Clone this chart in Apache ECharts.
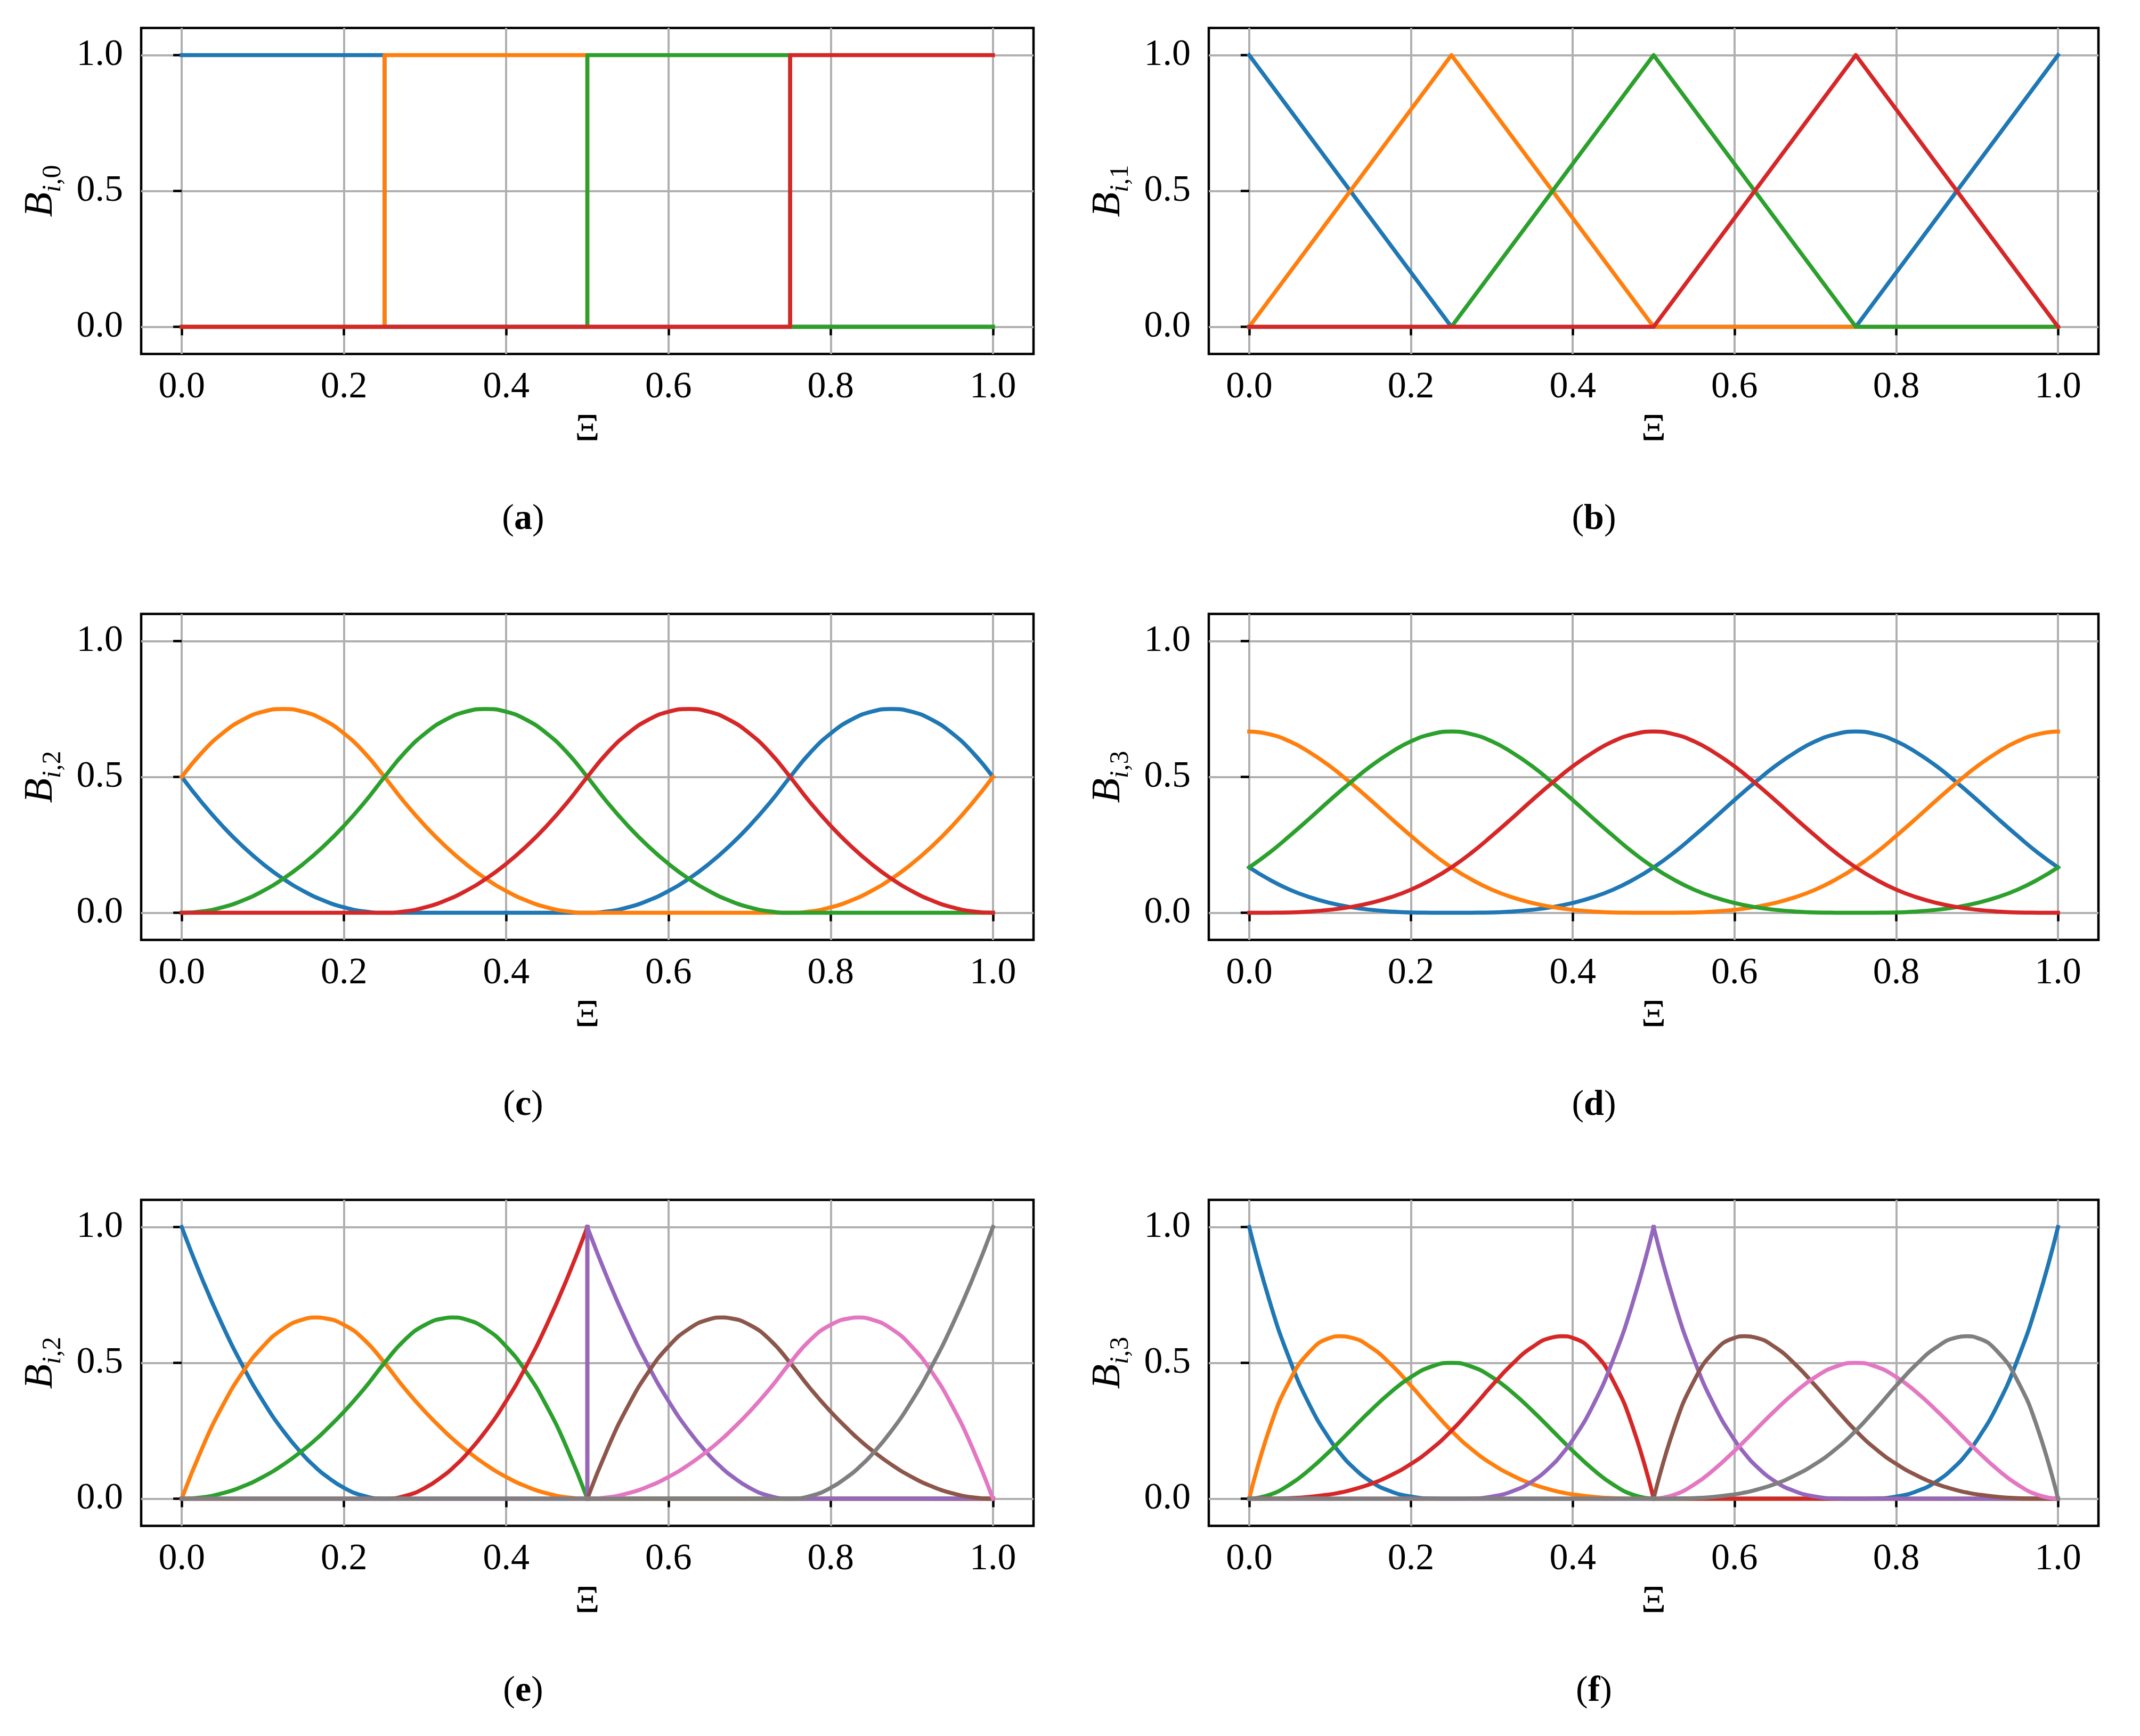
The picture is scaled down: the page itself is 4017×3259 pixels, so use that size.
<!DOCTYPE html>
<html><head><meta charset="utf-8">
<script src="https://cdn.jsdelivr.net/npm/echarts@6/dist/echarts.min.js"></script>
<style>html,body{margin:0;padding:0;background:#fff}#main{width:4017px;height:3259px}</style>
</head><body><div id="main"></div>
<script>
// ---------- tick labels ----------
const xTickValues = [0, 0.2, 0.4, 0.6, 0.8, 1.0];
const yTickValues = [0, 0.5, 1.0];
const captions = ['a', 'b', 'c', 'd', 'e', 'f'];
const yLabelDegree = ['0', '1', '2', '3', '2', '3'];

// ---------- x samples ----------
const xsStep = [0, 0.25, 0.25, 0.5, 0.5, 0.75, 0.75, 1];
const xsLin = [0, 0.25, 0.5, 0.75, 1];
const xsGrid = [0, 0.025, 0.05, 0.075, 0.1, 0.125, 0.15, 0.175, 0.2, 0.225, 0.25, 0.275, 0.3, 0.325, 0.35, 0.375, 0.4, 0.425, 0.45, 0.475, 0.5,
  0.525, 0.55, 0.575, 0.6, 0.625, 0.65, 0.675, 0.7, 0.725, 0.75, 0.775, 0.8, 0.825, 0.85, 0.875, 0.9, 0.925, 0.95, 0.975, 1];
// (e): left half ends at 0.5, right half starts again at 0.5 (jump)
const xsE = [0, 0.025, 0.05, 0.075, 0.1, 0.125, 0.15, 0.1667, 0.175, 0.2, 0.225, 0.25, 0.275, 0.3, 0.325, 0.3333, 0.35, 0.375, 0.4, 0.425, 0.45, 0.475, 0.5,
  0.5, 0.525, 0.55, 0.575, 0.6, 0.625, 0.65, 0.6667, 0.675, 0.7, 0.725, 0.75, 0.775, 0.8, 0.825, 0.8333, 0.85, 0.875, 0.9, 0.925, 0.95, 0.975, 1];
// (f): 0.5 shared by both halves
const xsF = [0, 0.025, 0.05, 0.075, 0.1, 0.1133, 0.125, 0.15, 0.175, 0.2, 0.225, 0.25, 0.275, 0.3, 0.325, 0.35, 0.375, 0.3867, 0.4, 0.425, 0.45, 0.475, 0.5,
  0.525, 0.55, 0.575, 0.6, 0.6133, 0.625, 0.65, 0.675, 0.7, 0.725, 0.75, 0.775, 0.8, 0.825, 0.85, 0.875, 0.8867, 0.9, 0.925, 0.95, 0.975, 1];

// ---------- (a) B_{i,0} ----------
const a_blue   = [1, 1, 0, 0, 0, 0, 0, 0];
const a_orange = [0, 0, 1, 1, 0, 0, 0, 0];
const a_green  = [0, 0, 0, 0, 1, 1, 0, 0];
const a_red    = [0, 0, 0, 0, 0, 0, 1, 1];

// ---------- (b) B_{i,1} ----------
const b_blue   = [1, 0, 0, 0, 1];
const b_orange = [0, 1, 0, 0, 0];
const b_green  = [0, 0, 1, 0, 0];
const b_red    = [0, 0, 0, 1, 0];

// ---------- (c) B_{i,2} periodic ----------
const c_blue = [0.5,0.405,0.32,0.245,0.18,0.125,0.08,0.045,0.02,0.005,0,
  0,0,0,0,0,0,0,0,0,0,
  0.005,0.02,0.045,0.08,0.125,0.18,0.245,0.32,0.405,0.5,
  0.59,0.66,0.71,0.74,0.75,0.74,0.71,0.66,0.59,0.5];
const c_orange = [0.5,0.59,0.66,0.71,0.74,0.75,0.74,0.71,0.66,0.59,0.5,
  0.405,0.32,0.245,0.18,0.125,0.08,0.045,0.02,0.005,0,
  0,0,0,0,0,0,0,0,0,0,
  0.005,0.02,0.045,0.08,0.125,0.18,0.245,0.32,0.405,0.5];
const c_green = [0,0.005,0.02,0.045,0.08,0.125,0.18,0.245,0.32,0.405,0.5,
  0.59,0.66,0.71,0.74,0.75,0.74,0.71,0.66,0.59,0.5,
  0.405,0.32,0.245,0.18,0.125,0.08,0.045,0.02,0.005,0,
  0,0,0,0,0,0,0,0,0,0];
const c_red = [0,0,0,0,0,0,0,0,0,0,0,
  0.005,0.02,0.045,0.08,0.125,0.18,0.245,0.32,0.405,0.5,
  0.59,0.66,0.71,0.74,0.75,0.74,0.71,0.66,0.59,0.5,
  0.405,0.32,0.245,0.18,0.125,0.08,0.045,0.02,0.005,0];

// ---------- (d) B_{i,3} periodic ----------
const d_blue = [0.167,0.122,0.085,0.057,0.036,0.021,0.011,0.0045,0.001,0.0002,0,
  0.0002,0.001,0.0045,0.011,0.021,0.036,0.057,0.085,0.122,0.167,
  0.221,0.283,0.348,0.415,0.479,0.539,0.59,0.631,0.657,0.667,
  0.657,0.631,0.59,0.539,0.479,0.415,0.348,0.283,0.221,0.167];
const d_orange = [0.667,0.657,0.631,0.59,0.539,0.479,0.415,0.348,0.283,0.221,0.167,
  0.122,0.085,0.057,0.036,0.021,0.011,0.0045,0.001,0.0002,0,
  0.0002,0.001,0.0045,0.011,0.021,0.036,0.057,0.085,0.122,0.167,
  0.221,0.283,0.348,0.415,0.479,0.539,0.59,0.631,0.657,0.667];
const d_green = [0.167,0.221,0.283,0.348,0.415,0.479,0.539,0.59,0.631,0.657,0.667,
  0.657,0.631,0.59,0.539,0.479,0.415,0.348,0.283,0.221,0.167,
  0.122,0.085,0.057,0.036,0.021,0.011,0.0045,0.001,0.0002,0,
  0.0002,0.001,0.0045,0.011,0.021,0.036,0.057,0.085,0.122,0.167];
const d_red = [0,0.0002,0.001,0.0045,0.011,0.021,0.036,0.057,0.085,0.122,0.167,
  0.221,0.283,0.348,0.415,0.479,0.539,0.59,0.631,0.657,0.667,
  0.657,0.631,0.59,0.539,0.479,0.415,0.348,0.283,0.221,0.167,
  0.122,0.085,0.057,0.036,0.021,0.011,0.0045,0.001,0.0002,0];

// ---------- (e) B_{i,2}, triple knot at 0.5 (xsE: 23 left + 23 right) ----------
const e_blue = [1,0.81,0.64,0.49,0.36,0.25,0.16,0.111,0.09,0.04,0.01,0, 0,0,0,0,0,0,0,0,0,0,0,
  0,0,0,0,0,0,0,0,0,0, 0,0,0,0,0,0,0,0,0,0, 0,0,0];
const e_orange = [0,0.185,0.34,0.465,0.56,0.625,0.66,0.667,0.665,0.64,0.585,0.5, 0.405,0.32,0.245,0.222,0.18,0.125,0.08,0.045,0.02,0.005,0,
  0,0,0,0,0,0,0,0,0,0, 0,0,0,0,0,0,0,0,0,0, 0,0,0];
const e_green = [0,0.005,0.02,0.045,0.08,0.125,0.18,0.222,0.245,0.32,0.405,0.5, 0.585,0.64,0.665,0.667,0.66,0.625,0.56,0.465,0.34,0.185,0,
  0,0,0,0,0,0,0,0,0,0, 0,0,0,0,0,0,0,0,0,0, 0,0,0];
const e_red = [0,0,0,0,0,0,0,0,0,0,0,0, 0.01,0.04,0.09,0.111,0.16,0.25,0.36,0.49,0.64,0.81,1,
  0,0,0,0,0,0,0,0,0,0, 0,0,0,0,0,0,0,0,0,0, 0,0,0];
const e_purple = [0,0,0,0,0,0,0,0,0,0, 0,0,0,0,0,0,0,0,0,0, 0,0,0,
  1,0.81,0.64,0.49,0.36,0.25,0.16,0.111,0.09,0.04,0.01,0, 0,0,0,0,0,0,0,0,0,0,0];
const e_brown = [0,0,0,0,0,0,0,0,0,0, 0,0,0,0,0,0,0,0,0,0, 0,0,0,
  0,0.185,0.34,0.465,0.56,0.625,0.66,0.667,0.665,0.64,0.585,0.5, 0.405,0.32,0.245,0.222,0.18,0.125,0.08,0.045,0.02,0.005,0];
const e_pink = [0,0,0,0,0,0,0,0,0,0, 0,0,0,0,0,0,0,0,0,0, 0,0,0,
  0,0.005,0.02,0.045,0.08,0.125,0.18,0.222,0.245,0.32,0.405,0.5, 0.585,0.64,0.665,0.667,0.66,0.625,0.56,0.465,0.34,0.185,0];
const e_gray = [0,0,0,0,0,0,0,0,0,0, 0,0,0,0,0,0,0,0,0,0, 0,0,0,
  0,0,0,0,0,0,0,0,0,0,0,0, 0.01,0.04,0.09,0.111,0.16,0.25,0.36,0.49,0.64,0.81,1];

// ---------- (f) B_{i,3}, triple knot at 0.5 (xsF: 23 left incl. 0.5 + 22 right) ----------
const f_blue = [1,0.729,0.512,0.343,0.216,0.164,0.125,0.064,0.027,0.008,0.001,0, 0,0,0,0,0,0,0,0,0,0,0,
  0,0,0,0,0,0,0,0,0,0, 0,0.001,0.008,0.027,0.064,0.125,0.164,0.216,0.343,0.512,0.729,1];
const f_orange = [0,0.257,0.434,0.542,0.592,0.598,0.594,0.558,0.495,0.416,0.331,0.25, 0.182,0.128,0.086,0.054,0.031,0.023,0.016,0.007,0.002,0.0003,0,
  0,0,0,0,0,0,0,0,0,0, 0,0,0,0,0,0,0,0,0,0, 0,0];
const f_green = [0,0.014,0.052,0.108,0.176,0.215,0.25,0.324,0.392,0.448,0.486,0.5, 0.486,0.448,0.392,0.324,0.25,0.215,0.176,0.108,0.052,0.014,0,
  0,0,0,0,0,0,0,0,0,0, 0,0,0,0,0,0,0,0,0,0, 0,0];
const f_red = [0,0.0003,0.002,0.007,0.016,0.023,0.031,0.054,0.086,0.128,0.182,0.25, 0.331,0.416,0.495,0.558,0.594,0.598,0.592,0.542,0.434,0.257,0,
  0,0,0,0,0,0,0,0,0,0, 0,0,0,0,0,0,0,0,0,0, 0,0];
const f_purple = [0,0,0,0,0,0,0,0,0,0,0,0, 0.001,0.008,0.027,0.064,0.125,0.164,0.216,0.343,0.512,0.729,1,
  0.729,0.512,0.343,0.216,0.164,0.125,0.064,0.027,0.008,0.001,0, 0,0,0,0,0,0,0,0,0,0,0];
const f_brown = [0,0,0,0,0,0,0,0,0,0, 0,0,0,0,0,0,0,0,0,0, 0,0,0,
  0.257,0.434,0.542,0.592,0.598,0.594,0.558,0.495,0.416,0.331,0.25, 0.182,0.128,0.086,0.054,0.031,0.023,0.016,0.007,0.002,0.0003,0];
const f_pink = [0,0,0,0,0,0,0,0,0,0, 0,0,0,0,0,0,0,0,0,0, 0,0,0,
  0.014,0.052,0.108,0.176,0.215,0.25,0.324,0.392,0.448,0.486,0.5, 0.486,0.448,0.392,0.324,0.25,0.215,0.176,0.108,0.052,0.014,0];
const f_gray = [0,0,0,0,0,0,0,0,0,0, 0,0,0,0,0,0,0,0,0,0, 0,0,0,
  0.0003,0.002,0.007,0.016,0.023,0.031,0.054,0.086,0.128,0.182,0.25, 0.331,0.416,0.495,0.558,0.594,0.598,0.592,0.542,0.434,0.257,0];

// ---------- assembly ----------
const COLORS = ['#1f77b4', '#ff7f0e', '#2ca02c', '#d62728', '#9467bd', '#8c564b', '#e377c2', '#7f7f7f'];
// pieces: [startIndex, endIndex, smoothed?]  (split at the repeated knot so corners stay sharp)
const panels = [
  { xs: xsStep, ys: [a_blue, a_orange, a_green, a_red], pieces: [[0, 7, false]] },
  { xs: xsLin,  ys: [b_blue, b_orange, b_green, b_red], pieces: [[0, 4, false]] },
  { xs: xsGrid, ys: [c_blue, c_orange, c_green, c_red], pieces: [[0, 40, true]] },
  { xs: xsGrid, ys: [d_blue, d_orange, d_green, d_red], pieces: [[0, 40, true]] },
  { xs: xsE, ys: [e_blue, e_orange, e_green, e_red, e_purple, e_brown, e_pink, e_gray],
    pieces: [[0, 22, true], [22, 23, false], [23, 45, true]] },
  { xs: xsF, ys: [f_blue, f_orange, f_green, f_red, f_purple, f_brown, f_pink, f_gray],
    pieces: [[0, 22, true], [22, 44, true]] }
];

const FONT = 'Liberation Serif';
const colLeft = [265, 2269];
const colWidth = [1675, 1670];
const colCaptionX = [982, 2992];
const rowTop = [52.5, 1152.5, 2252.5];
const boxH = 612;

const grids = [], xAxes = [], yAxes = [], series = [], titles = [];
panels.forEach((p, k) => {
  const col = k % 2, row = Math.floor(k / 2);
  grids.push({ left: colLeft[col], top: rowTop[row], width: colWidth[col], height: boxH,
    show: true, borderColor: '#000', borderWidth: 4.5, backgroundColor: 'transparent' });
  xAxes.push({
    gridIndex: k, type: 'value', min: -0.05, max: 1.05, minInterval: 0.2, maxInterval: 0.2,
    axisLine: { show: false },
    axisTick: { show: true, length: 16, customValues: xTickValues, lineStyle: { color: '#000', width: 4.5 } },
    axisLabel: { customValues: xTickValues, margin: 28, fontFamily: FONT, fontSize: 70, color: '#000',
      formatter: v => Number(v).toFixed(1) },
    splitLine: { show: true, lineStyle: { color: '#b0b0b0', width: 4 } },
    name: 'Ξ', nameLocation: 'middle', nameGap: 107,
    nameTextStyle: { fontFamily: FONT, fontSize: 72, color: '#000' }
  });
  yAxes.push({
    gridIndex: k, type: 'value', min: -0.1, max: 1.1, minInterval: 0.5, maxInterval: 0.5,
    axisLine: { show: false },
    axisTick: { show: true, length: 16, customValues: yTickValues, lineStyle: { color: '#000', width: 4.5 } },
    axisLabel: { customValues: yTickValues, margin: 34, fontFamily: FONT, fontSize: 70, color: '#000',
      formatter: v => Number(v).toFixed(1) },
    splitLine: { show: true, lineStyle: { color: '#b0b0b0', width: 4 } },
    name: '{b|B}{i|i}{c|,' + yLabelDegree[k] + '}', nameLocation: 'middle', nameRotate: 90, nameGap: 150,
    nameTextStyle: { color: '#000', rich: {
      b: { fontFamily: FONT, fontStyle: 'italic', fontSize: 76, lineHeight: 76, verticalAlign: 'top', color: '#000' },
      i: { fontFamily: FONT, fontStyle: 'italic', fontSize: 50, lineHeight: 50, padding: [36, 0, 0, 0], verticalAlign: 'top', color: '#000' },
      c: { fontFamily: FONT, fontSize: 50, lineHeight: 50, padding: [36, 0, 0, 0], verticalAlign: 'top', color: '#000' }
    } }
  });
  p.ys.forEach((ys, j) => {
    p.pieces.forEach(([s, e, sm]) => {
      const data = [];
      for (let i = s; i <= e; i++) data.push([p.xs[i], ys[i]]);
      series.push({
        type: 'line', name: 'B' + j, xAxisIndex: k, yAxisIndex: k, symbol: 'none', showSymbol: false, silent: true,
        smooth: sm ? 0.5 : false,
        data: data,
        lineStyle: { color: COLORS[j], width: 7.5, join: 'round', cap: 'square' },
        itemStyle: { color: COLORS[j] }
      });
    });
  });
  titles.push({
    text: '{p|(}{a|' + captions[k] + '}{p|)}', left: colCaptionX[col], top: 941 + 1100 * row,
    textAlign: 'center', padding: 0,
    textStyle: { fontWeight: 'normal', rich: {
      p: { fontFamily: FONT, fontSize: 68, lineHeight: 68, fontWeight: 'normal', color: '#000' },
      a: { fontFamily: FONT, fontSize: 68, lineHeight: 68, fontWeight: 'bold', color: '#000' }
    } }
  });
});

const chart = echarts.init(document.getElementById('main'), null, { renderer: 'canvas', width: 4017, height: 3259 });
chart.setOption({
  animation: false,
  backgroundColor: '#ffffff',
  title: titles,
  grid: grids,
  xAxis: xAxes,
  yAxis: yAxes,
  series: series
});
</script></body></html>
